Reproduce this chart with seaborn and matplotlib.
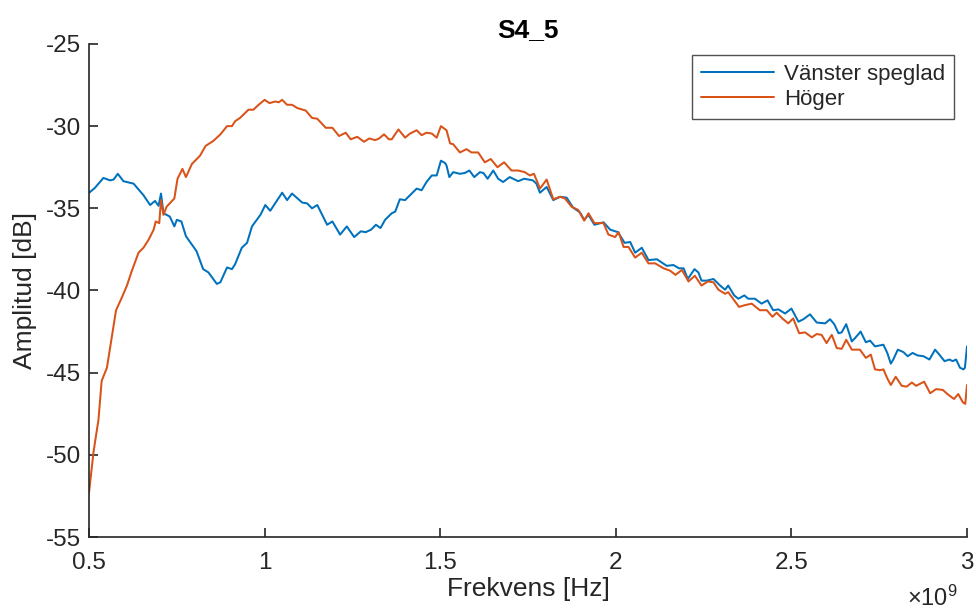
import matplotlib
matplotlib.use("Agg")
import matplotlib.pyplot as plt
import numpy as np
import pandas as pd
import seaborn as sns

# frequency in units of 1e9 Hz, amplitude in dB
freq_left = [
    0.500, 0.517, 0.541, 0.560, 0.570, 0.582, 0.598, 0.627, 0.655, 0.674,
    0.688, 0.698, 0.705, 0.712, 0.730, 0.743, 0.750, 0.763, 0.776, 0.806,
    0.825, 0.840, 0.864, 0.874, 0.893, 0.907, 0.916, 0.935, 0.950, 0.964,
    0.988, 1.002, 1.016, 1.030, 1.050, 1.064, 1.078, 1.107, 1.121, 1.135,
    1.150, 1.178, 1.193, 1.215, 1.234, 1.255, 1.274, 1.288, 1.303, 1.317,
    1.330, 1.343, 1.362, 1.372, 1.385, 1.400, 1.419, 1.433, 1.447, 1.461,
    1.476, 1.490, 1.502, 1.514, 1.518, 1.526, 1.537, 1.556, 1.570, 1.583,
    1.597, 1.613, 1.623, 1.635, 1.651, 1.665, 1.679, 1.698, 1.722, 1.739,
    1.764, 1.774, 1.784, 1.803, 1.822, 1.841, 1.860, 1.878, 1.898, 1.910,
    1.922, 1.939, 1.965, 1.984, 2.006, 2.025, 2.041, 2.055, 2.074, 2.093,
    2.117, 2.145, 2.164, 2.180, 2.193, 2.205, 2.224, 2.235, 2.244, 2.259,
    2.278, 2.297, 2.311, 2.320, 2.337, 2.349, 2.366, 2.377, 2.396, 2.415,
    2.432, 2.448, 2.463, 2.482, 2.500, 2.520, 2.534, 2.553, 2.572, 2.596,
    2.610, 2.622, 2.634, 2.643, 2.656, 2.672, 2.681, 2.697, 2.712, 2.724,
    2.738, 2.762, 2.773, 2.783, 2.790, 2.803, 2.819, 2.831, 2.845, 2.859,
    2.876, 2.893, 2.909, 2.921, 2.936, 2.950, 2.959, 2.969, 2.980, 2.990,
    2.994, 3.000,
]
amp_left = [
    -34.06, -33.75, -33.15, -33.30, -33.25, -32.90, -33.35, -33.50, -34.20, -34.80,
    -34.55, -34.85, -34.10, -35.30, -35.50, -36.10, -35.70, -35.80, -36.70, -37.60,
    -38.70, -38.90, -39.60, -39.50, -38.60, -38.70, -38.40, -37.40, -37.10, -36.10,
    -35.40, -34.80, -35.15, -34.70, -34.05, -34.50, -34.10, -34.65, -34.70, -35.00,
    -34.80, -36.00, -35.80, -36.60, -36.10, -36.75, -36.40, -36.45, -36.30, -36.00,
    -36.20, -35.70, -35.30, -35.20, -34.45, -34.50, -34.10, -33.80, -33.90, -33.40,
    -33.00, -33.00, -32.10, -32.25, -32.40, -33.10, -32.80, -32.90, -32.85, -32.70,
    -33.10, -32.80, -32.85, -33.20, -32.70, -33.20, -33.40, -33.10, -33.35, -33.20,
    -33.30, -33.50, -34.05, -33.70, -34.50, -34.30, -34.35, -34.95, -35.25, -35.70,
    -35.40, -36.00, -35.85, -36.30, -36.45, -37.10, -37.05, -37.70, -37.40, -38.15,
    -38.10, -38.50, -38.45, -38.65, -38.65, -39.30, -38.70, -38.90, -39.40, -39.40,
    -39.30, -39.70, -39.95, -39.70, -40.30, -40.50, -40.30, -40.50, -40.50, -40.80,
    -40.60, -41.20, -41.15, -41.40, -41.10, -41.90, -41.75, -41.45, -41.95, -42.00,
    -41.75, -42.05, -42.60, -42.55, -42.05, -43.10, -42.90, -42.50, -43.15, -43.05,
    -43.40, -43.30, -43.80, -44.45, -44.20, -43.60, -43.75, -44.00, -43.80, -43.95,
    -44.00, -44.20, -43.60, -43.90, -44.30, -44.20, -44.30, -44.20, -44.70, -44.80,
    -44.70, -43.40,
]

freq_right = [
    0.500, 0.513, 0.527, 0.536, 0.551, 0.565, 0.577, 0.592, 0.608, 0.622,
    0.641, 0.655, 0.670, 0.684, 0.690, 0.700, 0.705, 0.712, 0.721, 0.743,
    0.752, 0.766, 0.776, 0.793, 0.816, 0.832, 0.854, 0.874, 0.893, 0.907,
    0.916, 0.930, 0.954, 0.968, 0.983, 1.000, 1.014, 1.030, 1.040, 1.050,
    1.064, 1.078, 1.093, 1.117, 1.135, 1.150, 1.174, 1.193, 1.212, 1.231,
    1.245, 1.264, 1.283, 1.298, 1.315, 1.326, 1.340, 1.354, 1.362, 1.381,
    1.400, 1.414, 1.433, 1.447, 1.461, 1.476, 1.490, 1.502, 1.518, 1.528,
    1.537, 1.556, 1.575, 1.589, 1.608, 1.627, 1.644, 1.663, 1.682, 1.703,
    1.722, 1.741, 1.755, 1.767, 1.784, 1.803, 1.822, 1.841, 1.855, 1.874,
    1.893, 1.910, 1.922, 1.939, 1.965, 1.979, 1.998, 2.008, 2.022, 2.036,
    2.055, 2.074, 2.093, 2.112, 2.136, 2.155, 2.170, 2.188, 2.207, 2.225,
    2.244, 2.262, 2.278, 2.292, 2.311, 2.320, 2.337, 2.351, 2.366, 2.387,
    2.410, 2.430, 2.446, 2.458, 2.474, 2.491, 2.505, 2.522, 2.539, 2.558,
    2.572, 2.586, 2.600, 2.615, 2.629, 2.643, 2.656, 2.672, 2.695, 2.712,
    2.726, 2.738, 2.752, 2.762, 2.773, 2.783, 2.797, 2.814, 2.828, 2.843,
    2.855, 2.878, 2.895, 2.912, 2.931, 2.947, 2.963, 2.975, 2.988, 2.995,
    3.000,
]
amp_right = [
    -52.30, -49.80, -47.85, -45.50, -44.70, -42.80, -41.20, -40.50, -39.70, -38.80,
    -37.70, -37.40, -36.90, -36.30, -35.80, -35.90, -34.50, -35.40, -34.90, -34.40,
    -33.20, -32.60, -33.10, -32.30, -31.80, -31.20, -30.90, -30.50, -30.00, -30.00,
    -29.70, -29.50, -29.00, -29.00, -28.70, -28.40, -28.60, -28.50, -28.55, -28.40,
    -28.70, -28.70, -28.90, -29.05, -29.50, -29.55, -30.10, -30.10, -30.60, -30.40,
    -30.80, -30.65, -30.95, -30.75, -30.85, -30.75, -30.50, -30.80, -30.80, -30.20,
    -30.70, -30.45, -30.25, -30.55, -30.40, -30.45, -30.70, -30.00, -30.25, -31.05,
    -31.10, -31.60, -31.40, -31.60, -31.60, -32.20, -32.00, -32.50, -32.20, -32.70,
    -32.70, -32.80, -33.00, -32.90, -33.80, -33.25, -34.45, -34.30, -34.40, -34.90,
    -35.10, -35.75, -35.30, -35.90, -35.90, -36.60, -36.75, -36.45, -37.35, -37.35,
    -38.00, -37.70, -38.35, -38.35, -38.65, -38.80, -39.05, -38.75, -39.45, -39.10,
    -39.70, -39.45, -39.50, -39.95, -40.20, -40.10, -40.60, -41.00, -40.90, -40.80,
    -41.20, -41.20, -41.60, -41.35, -41.70, -42.00, -41.70, -42.60, -42.55, -42.85,
    -42.65, -42.70, -43.20, -42.70, -43.50, -43.55, -43.00, -43.60, -43.60, -44.10,
    -43.90, -44.80, -44.85, -44.80, -45.35, -45.75, -45.25, -45.80, -45.85, -45.60,
    -45.80, -45.55, -46.25, -46.00, -46.05, -46.35, -46.60, -46.30, -46.80, -46.90,
    -45.75,
]

labels = ["Vänster speglad", "Höger"]
colors = ["#0072BD", "#D95319"]
x_ticks = [0.5, 1, 1.5, 2, 2.5, 3]
x_tick_labels = ["0.5", "1", "1.5", "2", "2.5", "3"]
y_ticks = [-55, -50, -45, -40, -35, -30, -25]

sns.set_style("ticks")
plt.rcParams["font.family"] = ["Liberation Sans", "DejaVu Sans"]
plt.rcParams["axes.unicode_minus"] = False
plt.rcParams["mathtext.fontset"] = "custom"
plt.rcParams["mathtext.rm"] = "Liberation Sans"
plt.rcParams["mathtext.it"] = "Liberation Sans"

df = pd.concat([
    pd.DataFrame({"freq": freq_left, "amp": amp_left, "series": labels[0]}),
    pd.DataFrame({"freq": freq_right, "amp": amp_right, "series": labels[1]}),
])

fig = plt.figure(figsize=(9.76, 6.09), dpi=100)
ax = fig.add_axes([0.0912, 0.1182, 0.8996, 0.8096])

sns.lineplot(
    data=df, x="freq", y="amp", hue="series", hue_order=labels,
    palette=colors, sort=False, estimator=None, linewidth=1.45, ax=ax,
)

ax.set_xlim(0.5, 3)
ax.set_ylim(-55, -25)
ax.set_xticks(x_ticks)
ax.set_xticklabels(x_tick_labels)
ax.set_yticks(y_ticks)
ax.set_yticklabels([str(v) for v in y_ticks])

dark = "#262626"
for side in ["top", "right"]:
    ax.spines[side].set_visible(False)
for side in ["left", "bottom"]:
    ax.spines[side].set_color(dark)
    ax.spines[side].set_linewidth(1.2)
ax.tick_params(direction="in", length=6.5, width=1.2, colors=dark,
               labelsize=17.5, labelcolor=dark)
ax.tick_params(axis="x", pad=11)
ax.tick_params(axis="y", pad=6)

ax.set_xlabel("Frekvens [Hz]", fontsize=19, color=dark, labelpad=2)
ax.set_ylabel("Amplitud [dB]", fontsize=19, color=dark, labelpad=6)
ax.set_title("S4_5", fontsize=19, fontweight="bold", color="black", pad=5)
ax.text(0.961, -0.124, r"$\times10^{9}$", transform=ax.transAxes,
        fontsize=17, color=dark, ha="center", va="center")

leg = ax.legend(loc="upper right", bbox_to_anchor=(0.985, 0.978), fontsize=16,
                frameon=True, fancybox=False, handlelength=3.3,
                borderpad=0.4, labelspacing=0.2, handletextpad=0.45,
                borderaxespad=0)
leg.get_frame().set_edgecolor(dark)
leg.get_frame().set_linewidth(1.0)
for line in leg.get_lines():
    line.set_linewidth(1.45)

fig.savefig("out.png", dpi=100)
